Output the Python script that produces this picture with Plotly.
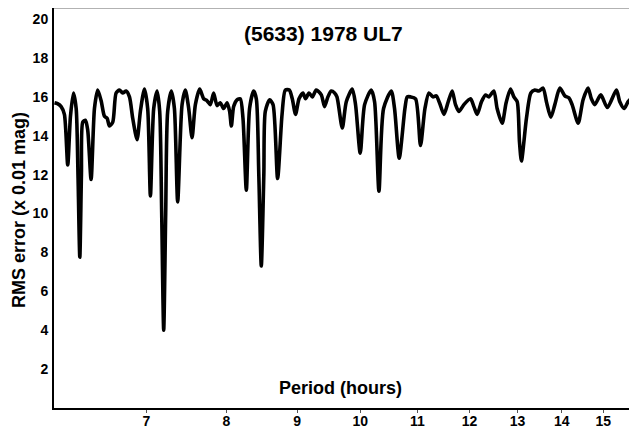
import plotly.graph_objects as go
import math

period_hours = [
    6.005, 6.035, 6.072, 6.105, 6.139, 6.167, 6.198, 6.226, 6.245, 6.264,
    6.281, 6.295, 6.323, 6.347, 6.383, 6.419, 6.454, 6.491, 6.527, 6.556,
    6.581, 6.618, 6.655, 6.692, 6.729, 6.767, 6.805, 6.842, 6.892, 6.930,
    6.977, 7.015, 7.047, 7.086, 7.126, 7.157, 7.181, 7.205, 7.229, 7.253,
    7.298, 7.335, 7.375, 7.429, 7.470, 7.512, 7.554, 7.596, 7.651, 7.702,
    7.746, 7.788, 7.831, 7.876, 7.919, 7.963, 8.009, 8.043, 8.066, 8.097,
    8.142, 8.187, 8.224, 8.270, 8.315, 8.371, 8.409, 8.444, 8.479, 8.515,
    8.536, 8.598, 8.647, 8.713, 8.778, 8.826, 8.885, 8.929, 8.978, 9.030,
    9.090, 9.129, 9.182, 9.232, 9.293, 9.372, 9.423, 9.476, 9.529, 9.582,
    9.620, 9.706, 9.771, 9.869, 9.923, 10.001, 10.074, 10.186, 10.243, 10.318,
    10.398, 10.532, 10.590, 10.673, 10.775, 10.817, 10.877, 10.968, 11.059, 11.141,
    11.215, 11.290, 11.353, 11.415, 11.500, 11.582, 11.659, 11.724, 11.791, 11.889,
    12.021, 12.089, 12.156, 12.243, 12.325, 12.395, 12.499, 12.567, 12.673, 12.757,
    12.850, 12.923, 12.995, 13.044, 13.087, 13.197, 13.294, 13.383, 13.473, 13.569,
    13.644, 13.746, 13.837, 13.953, 14.070, 14.164, 14.242, 14.386, 14.505, 14.626,
    14.707, 14.791, 14.940, 15.105, 15.334, 15.421, 15.533, 15.636, 15.768, 15.874,
]

rms_error = [
    15.7, 15.65, 15.5, 15.1, 12.5, 15.0, 16.2, 15.4, 12.0, 7.75,
    12.0, 14.7, 14.8, 14.3, 11.75, 15.4, 16.35, 15.8, 15.0, 14.9,
    14.5, 14.7, 16.2, 16.35, 16.2, 16.3, 16.0, 14.9, 13.8, 15.25,
    16.4, 15.4, 10.9, 15.4, 16.3, 15.25, 10.0, 4.0, 10.0, 15.25,
    16.3, 15.4, 10.6, 15.6, 16.35, 15.4, 13.9, 15.6, 16.4, 15.9,
    15.8, 15.6, 16.2, 15.55, 15.7, 15.4, 15.7, 15.25, 14.5, 15.5,
    15.85, 15.9, 14.9, 11.2, 15.4, 16.3, 15.9, 12.0, 7.3, 12.0,
    15.25, 15.85, 15.6, 11.8, 15.1, 16.35, 16.35, 15.9, 15.1, 15.9,
    16.2, 15.9, 16.2, 16.0, 16.35, 16.1, 15.5, 16.0, 16.3, 16.2,
    16.0, 14.4, 15.75, 16.4, 15.6, 13.1, 15.6, 16.35, 15.75, 11.15,
    15.4, 16.3, 15.4, 12.85, 15.4, 16.0, 16.0, 15.9, 13.5, 15.4,
    16.2, 16.0, 16.05, 15.7, 15.1, 15.75, 16.3, 15.6, 15.25, 15.6,
    15.9, 15.5, 15.1, 15.75, 16.1, 16.0, 16.3, 15.4, 14.65, 15.7,
    16.4, 16.0, 15.75, 13.7, 12.7, 14.9, 16.2, 16.35, 16.3, 16.45,
    15.75, 14.95, 15.6, 16.45, 16.05, 15.95, 15.6, 14.65, 15.85, 16.45,
    15.9, 15.6, 16.1, 15.45, 16.35, 15.75, 15.4, 15.75, 16.0, 15.85,
]

x_ticks = [7, 8, 9, 10, 11, 12, 13, 14, 15]
y_ticks = [2, 4, 6, 8, 10, 12, 14, 16, 18, 20]

FONT = "Liberation Sans, Arial, sans-serif"

fig = go.Figure()
fig.add_trace(go.Scatter(
    x=period_hours, y=rms_error, mode="lines",
    line=dict(color="black", width=3.6, shape="spline", smoothing=0.7),
    showlegend=False, hoverinfo="x+y",
))

# the page body has an 8px default margin, so the figure is sized to compensate
fig.update_layout(
    width=629, height=422,
    margin=dict(l=46, r=0, t=0, b=22, autoexpand=False),
    paper_bgcolor="white", plot_bgcolor="white",
    font=dict(family=FONT, size=14, color="black", weight="bold"),
    xaxis=dict(
        type="log", automargin=False,
        range=[math.log10(6.0), math.log10(15.87)],
        tickvals=x_ticks, ticktext=[str(v) for v in x_ticks],
        showgrid=False, zeroline=False,
        showline=True, linecolor="black", linewidth=2,
        ticks="outside", ticklen=3, tickwidth=1, tickcolor="#555",
        ticklabelstandoff=-4,
        tickfont=dict(family=FONT, size=14, color="black", weight="bold"),
    ),
    yaxis=dict(
        range=[0, 20.57], automargin=False,
        tickvals=y_ticks, ticktext=[str(v) for v in y_ticks],
        showgrid=False, zeroline=False,
        showline=True, linecolor="black", linewidth=2,
        ticks="", ticklabelstandoff=1,
        tickfont=dict(family=FONT, size=14, color="black", weight="bold"),
    ),
    shapes=[dict(type="line", xref="paper", yref="paper", x0=0, x1=1, y0=1, y1=1,
                 line=dict(color="#666", width=1))],
    annotations=[
        dict(text="(5633) 1978 UL7", xref="paper", yref="paper",
             x=(323 - 54) / 583, y=(408 - 33) / 400, xanchor="center", yanchor="middle",
             showarrow=False, font=dict(family=FONT, size=21, color="black", weight="bold")),
        dict(text="Period (hours)", xref="paper", yref="paper",
             x=(340 - 54) / 583, y=(408 - 388) / 400, xanchor="center", yanchor="middle",
             showarrow=False, font=dict(family=FONT, size=18, color="black", weight="bold")),
        dict(text="RMS error (x 0.01 mag)", xref="paper", yref="paper",
             x=(19 - 54) / 583, y=(408 - 210) / 400, xanchor="center", yanchor="middle",
             textangle=-90,
             showarrow=False, font=dict(family=FONT, size=18, color="black", weight="bold")),
    ],
)

fig.write_html("out.html")
